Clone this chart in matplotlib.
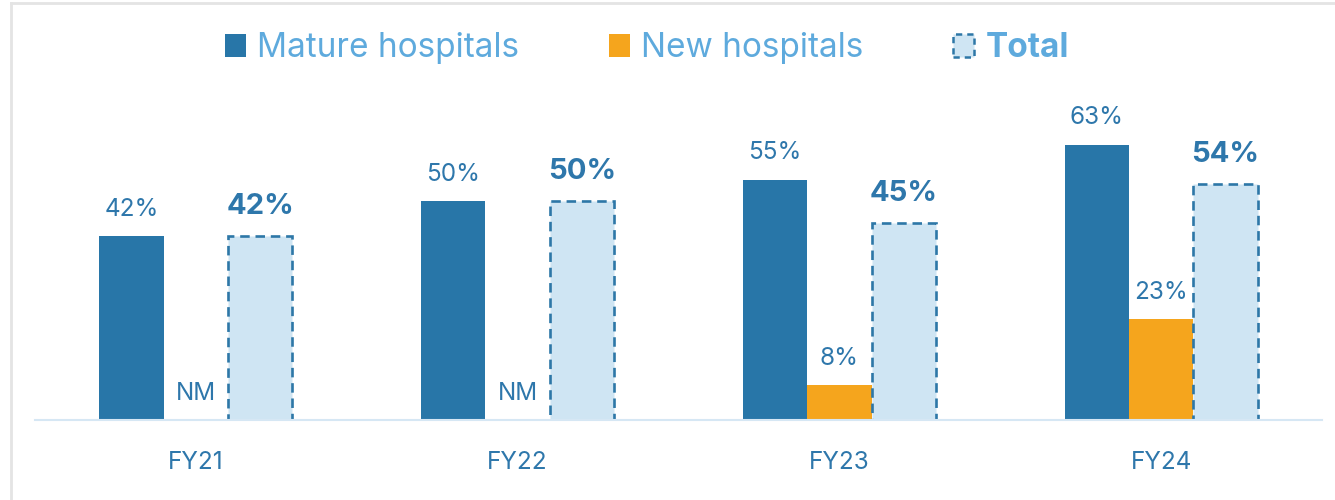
import matplotlib
matplotlib.use("Agg")
import matplotlib.pyplot as plt
from matplotlib.patches import Patch
from matplotlib.lines import Line2D
import numpy as np

categories = ["FY21", "FY22", "FY23", "FY24"]
mature = [42, 50, 55, 63]
new = [None, None, 8, 23]          # None -> "NM"
total = [42, 50, 45, 54]
series_names = ["Mature hospitals", "New hospitals", "Total"]

C_MATURE = "#2876a8"
C_NEW = "#f5a51d"
C_TOTAL = "#cfe5f3"
C_EDGE = "#2d77a7"
C_TEXT = "#2e77ab"
C_LEG = "#5eaadd"
C_AXIS = "#d6e7f4"

plt.rcParams["font.family"] = ["Inter", "DejaVu Sans"]

fig = plt.figure(figsize=(13.35, 5.0), dpi=100)
ax = fig.add_axes([35 / 1335, 80 / 500, (1322 - 35) / 1335, 340 / 500])

x = np.arange(len(categories))
w = 0.2

ax.bar(x - w, mature, width=w, color=C_MATURE, zorder=2)
new_vals = [v if v is not None else 0 for v in new]
ax.bar(x, new_vals, width=w, color=C_NEW, zorder=2)
ax.bar(x + w, total, width=w, color=C_TOTAL, edgecolor=C_EDGE,
       linewidth=1.9, linestyle=(0, (3.6, 2.2)), zorder=2)

for xi, v in zip(x, mature):
    ax.annotate(f"{v}%", (xi - w, v), xytext=(0, 15), textcoords="offset points",
                ha="center", va="baseline", fontsize=17.5, color=C_TEXT)
for xi, v in zip(x, new):
    if v is None:
        ax.annotate("NM", (xi, 0), xytext=(0, 14.5), textcoords="offset points",
                    ha="center", va="baseline", fontsize=17.5, color=C_TEXT)
    else:
        ax.annotate(f"{v}%", (xi, v), xytext=(0, 14.5), textcoords="offset points",
                    ha="center", va="baseline", fontsize=17.5, color=C_TEXT)
for xi, v in zip(x, total):
    ax.annotate(f"{v}%", (xi + w, v), xytext=(0, 16), textcoords="offset points",
                ha="center", va="baseline", fontsize=21, fontweight="bold", color=C_TEXT)

ax.set_xlim(-0.5, 3.5)
ax.set_ylim(0, 77.8)
ax.set_xticks(x)
ax.set_xticklabels(categories, fontsize=17.5, color=C_TEXT)
ax.tick_params(axis="x", length=0, pad=22)
ax.set_yticks([])
for s in ["top", "right", "left"]:
    ax.spines[s].set_visible(False)
ax.spines["bottom"].set_color(C_AXIS)
ax.spines["bottom"].set_linewidth(1.5)
ax.spines["bottom"].set_zorder(3)
ax.patch.set_alpha(0)

handles = [
    Patch(facecolor=C_MATURE, edgecolor="none"),
    Patch(facecolor=C_NEW, edgecolor="none"),
    Patch(facecolor=C_TOTAL, edgecolor=C_EDGE, linewidth=1.8, linestyle=(0, (2.5, 2))),
]
leg = fig.legend(handles, series_names, loc="center", bbox_to_anchor=(647 / 1335, 1 - 48 / 500),
                 ncol=3, frameon=False, fontsize=24, labelcolor=C_LEG,
                 handlelength=0.63, handleheight=0.7, handletextpad=0.33,
                 columnspacing=2.7)
leg.get_texts()[2].set_fontweight("bold")

# light frame on left and top
fig.add_artist(Line2D([10.5 / 1335, 10.5 / 1335], [0, 1 - 3 / 500], transform=fig.transFigure,
                      color="#e4e4e4", linewidth=2))
fig.add_artist(Line2D([10.5 / 1335, 1], [1 - 3 / 500, 1 - 3 / 500], transform=fig.transFigure,
                      color="#e4e4e4", linewidth=2))

fig.savefig("out.png", dpi=100, facecolor="white")
